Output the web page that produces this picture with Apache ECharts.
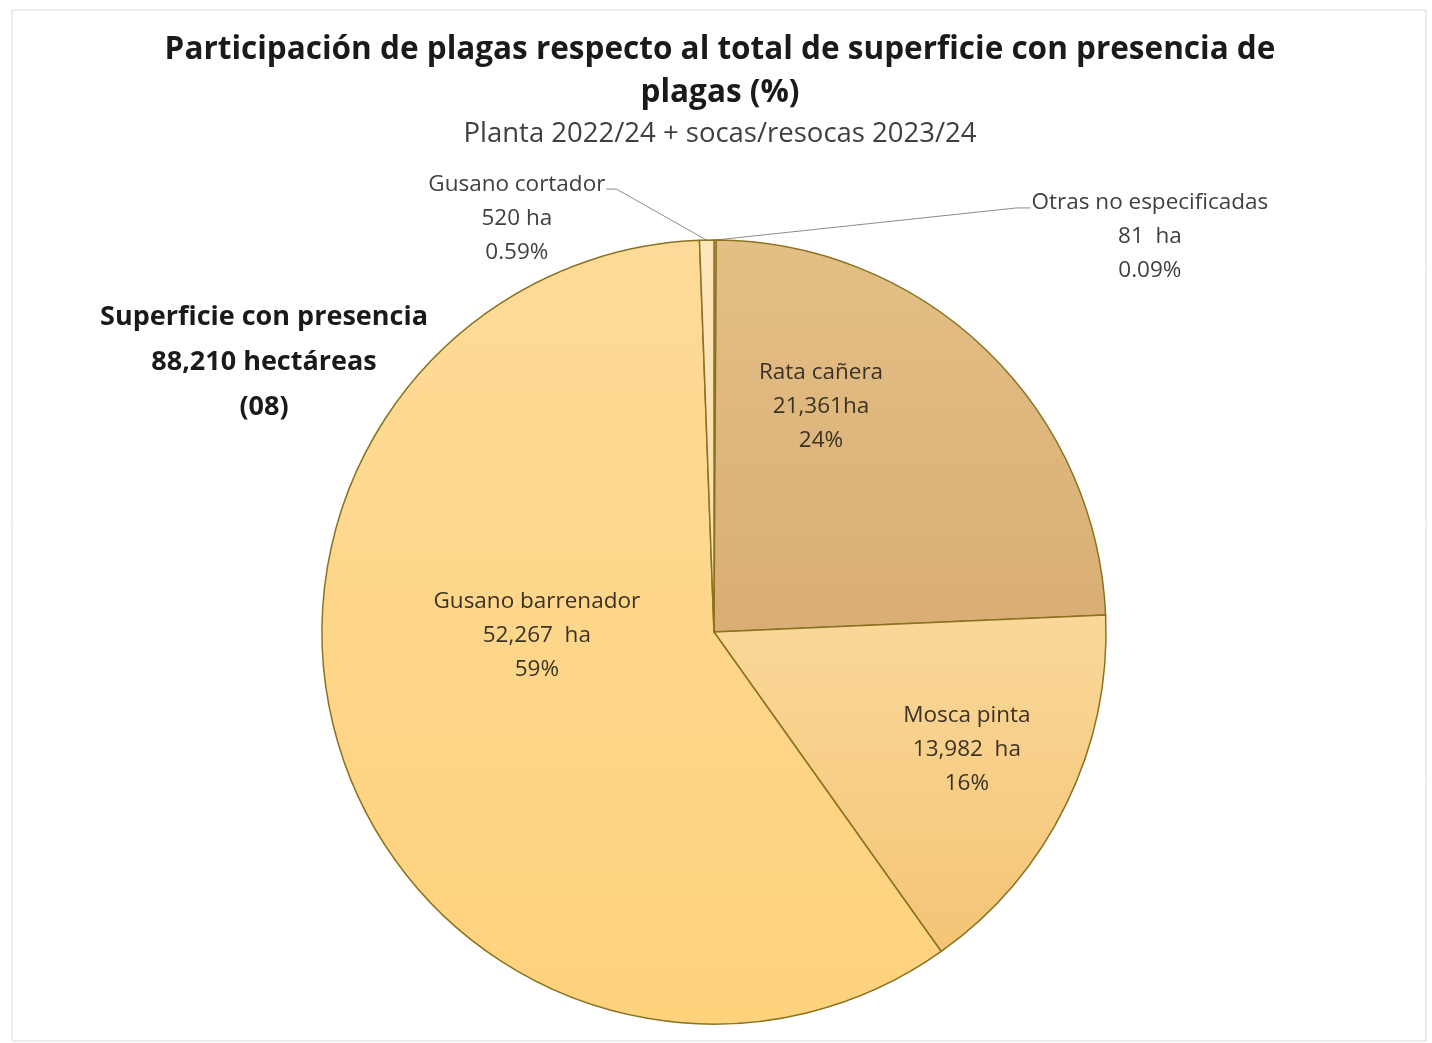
<!DOCTYPE html>
<html>
<head>
<meta charset="utf-8">
<script src="https://cdn.jsdelivr.net/npm/echarts@6/dist/echarts.min.js"></script>
<style>
html,body{margin:0;padding:0;background:#fff;}
#chart{width:1432px;height:1043px;}
</style>
</head>
<body>
<div id="chart"></div>
<script>
// ---- data ----
var categories = ['Otras no especificadas', 'Rata cañera', 'Mosca pinta', 'Gusano barrenador', 'Gusano cortador'];
var values = [81, 21361, 13982, 52267, 520];
var haLabels = ['81  ha', '21,361ha', '13,982  ha', '52,267  ha', '520 ha'];
var pctLabels = ['0.09%', '24%', '16%', '59%', '0.59%'];
var titleText = 'Participación de plagas respecto al total de superficie con presencia de\nplagas (%)';
var subtitleText = 'Planta 2022/24 + socas/resocas 2023/24';
var sideText = 'Superficie con presencia\n88,210 hectáreas\n(08)';

// ---- styles ----
var fills = [
  ['#FDE7BE', '#FBDDA8'],
  ['#E3BF86', '#D9AE74'],
  ['#FAD899', '#F4C476'],
  ['#FDDB98', '#FFD27C'],
  ['#FDE6BC', '#FCDCA6']
];
// label offsets in units of pie radius (dx, dy) from the pie center
var labelOffsets = [[1.112, -1.008], [0.273, -0.574], [0.645, 0.301], [-0.452, 0.008], [-0.503, -1.056]];
var outsideIdx = {0: 'left', 4: 'right'};
var centerFrac = [0.4986, 0.606];
var radiusPx = 392;
var labelFont = 22.5;

var chart = echarts.init(document.getElementById('chart'));
var W = chart.getWidth(), H = chart.getHeight();
var cx = centerFrac[0] * W, cy = centerFrac[1] * H;

var total = values.reduce(function (a, b) { return a + b; }, 0);
var cum = 0;
var midAngles = values.map(function (v) { var m = (cum + v / 2) / total * 2 * Math.PI; cum += v; return m; });

var data = categories.map(function (c, i) {
  var isOut = outsideIdx.hasOwnProperty(i);
  return {
    name: c,
    value: values[i],
    itemStyle: {
      color: { type: 'linear', x: 0, y: 0, x2: 0, y2: 1, colorStops: [{ offset: 0, color: fills[i][0] }, { offset: 1, color: fills[i][1] }] }
    },
    label: { color: isOut ? '#404040' : '#3b3226' },
    labelLine: { show: isOut, lineStyle: { color: '#8c8c8c', width: 1 } }
  };
});

chart.setOption({
  backgroundColor: '#ffffff',
  graphic: [{
    type: 'rect', shape: { x: 12, y: 10, width: W - 18, height: H - 12 },
    style: { fill: 'none', stroke: '#d9d9d9', lineWidth: 1 }, silent: true
  }],
  title: [{
    text: titleText, left: W / 2 - 1, top: 24, textAlign: 'center',
    textStyle: { fontFamily: 'Open Sans', fontWeight: 'bold', fontSize: 31.5, color: '#1a1a1a', lineHeight: 43, align: 'center' }
  }, {
    text: subtitleText, left: W / 2 - 1, top: 115, textAlign: 'center',
    textStyle: { fontFamily: 'Open Sans', fontWeight: 'normal', fontSize: 27.5, color: '#404040' }
  }, {
    text: sideText, left: 259, top: 290, textAlign: 'center',
    textStyle: { fontFamily: 'Open Sans', fontWeight: 'bold', fontSize: 27, color: '#1a1a1a', lineHeight: 45, align: 'center' }
  }],
  series: [{
    type: 'pie',
    center: [(centerFrac[0] * 100) + '%', (centerFrac[1] * 100) + '%'],
    radius: radiusPx,
    startAngle: 90,
    clockwise: true,
    avoidLabelOverlap: false,
    animation: false,
    itemStyle: { borderColor: '#8A7320', borderWidth: 1.5 },
    label: {
      show: true,
      position: 'outside',
      fontFamily: 'Open Sans',
      fontSize: labelFont,
      lineHeight: 34,
      align: 'center',
      formatter: function (p) { return categories[p.dataIndex] + '\n' + haLabels[p.dataIndex] + '\n' + pctLabels[p.dataIndex]; }
    },
    labelLine: { show: true, length: 10, length2: 10 },
    labelLayout: function (p) {
      var i = p.dataIndex;
      var lx = cx + labelOffsets[i][0] * radiusPx;
      var ly = cy + labelOffsets[i][1] * radiusPx;
      var res = { x: lx, y: ly, align: 'center', verticalAlign: 'middle' };
      if (outsideIdx.hasOwnProperty(i)) {
        var a = midAngles[i];
        var ex = cx + radiusPx * Math.sin(a), ey = cy - radiusPx * Math.cos(a);
        var w = p.labelRect.width;
        var topY = ly - 34 + 5;
        if (outsideIdx[i] === 'left') {
          var tx = lx - w / 2 - 1;
          res.labelLinePoints = [[ex, ey], [tx - 14, topY], [tx, topY]];
        } else {
          var tx2 = lx + w / 2 + 1;
          res.labelLinePoints = [[ex, ey], [tx2 + 10, topY], [tx2, topY]];
        }
      }
      return res;
    },
    data: data
  }]
});
</script>
</body>
</html>
